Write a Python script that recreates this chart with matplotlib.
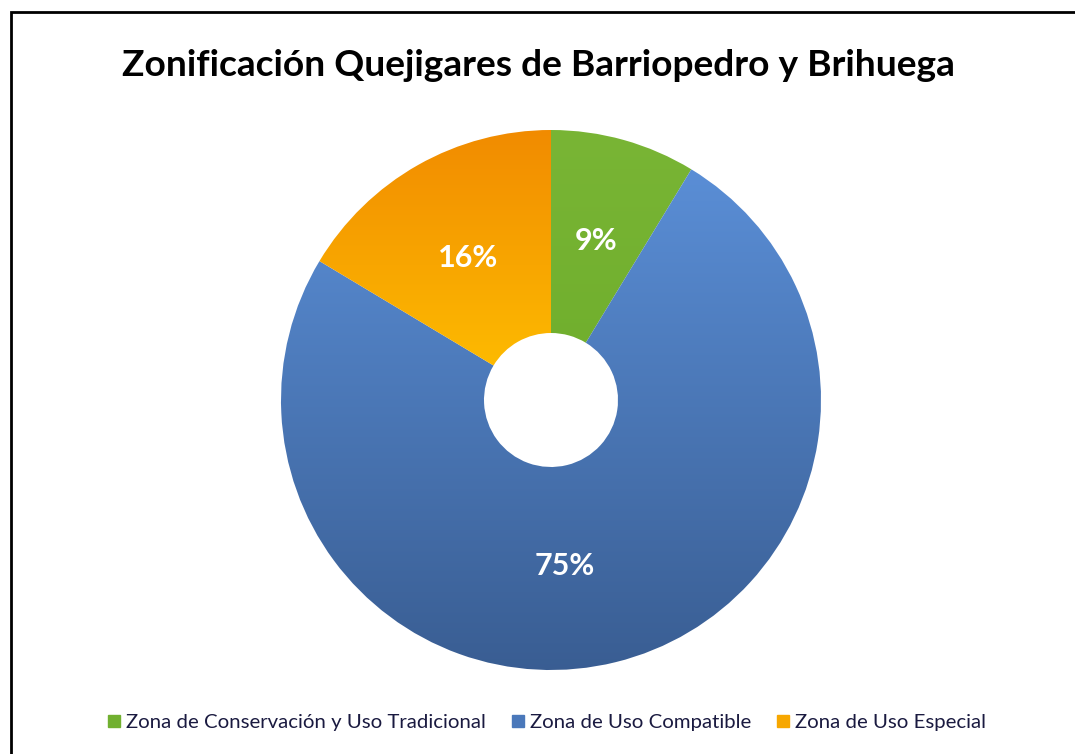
import numpy as np
import matplotlib
matplotlib.use("Agg")
import matplotlib.pyplot as plt
from matplotlib.colors import LinearSegmentedColormap
from matplotlib.lines import Line2D
from matplotlib.patches import Rectangle

categories = ["Zona de Conservación y Uso Tradicional",
              "Zona de Uso Compatible",
              "Zona de Uso Especial"]
values = [8.7, 74.9, 16.4]
labels = ["9%", "75%", "16%"]
title = "Zonificación Quejigares de Barriopedro y Brihuega"

grad_top = ["#79B535", "#5A8ED6", "#F18B00"]
grad_bot = ["#6FAE2C", "#395D92", "#FFC100"]
legend_colors = ["#71B030", "#4A78BA", "#F7A700"]

# label nudges (pixels, screen coords: +dy = down)
label_dx = [0, -27, 0]
label_dy = [3, 2, 5]

W, H = 1075, 754
fig = plt.figure(figsize=(W / 100, H / 100), dpi=100)
ax = fig.add_axes([0, 0, 1, 1])

cx, cy, R, r_in = 551, H - 400, 270, 67
wedges, _ = ax.pie(values, startangle=90, counterclock=False, radius=R,
                   center=(cx, cy), wedgeprops=dict(width=R - r_in, linewidth=0),
                   colors=grad_top, frame=True)
ax.set_xlim(0, W)
ax.set_ylim(0, H)
ax.set_aspect("equal")
ax.axis("off")

# Gradient fill per wedge (vertical, top -> bottom)
for w, c0, c1 in zip(wedges, grad_top, grad_bot):
    verts = w.get_path().vertices
    x0, x1 = verts[:, 0].min(), verts[:, 0].max()
    y0, y1 = verts[:, 1].min(), verts[:, 1].max()
    cmap = LinearSegmentedColormap.from_list("g", [c0, c1])
    grad = np.linspace(0, 1, 256).reshape(-1, 1)
    im = ax.imshow(grad, cmap=cmap, extent=(x0, x1, y0, y1), origin="upper",
                   aspect="auto", interpolation="bilinear", zorder=2)
    im.set_clip_path(w)
    w.set_facecolor("none")

# Percentage labels at mid radius
theta = 90.0
total = sum(values)
rm = (R + r_in) / 2
for v, lab, dx, dy in zip(values, labels, label_dx, label_dy):
    ang = theta - v / total * 360 / 2
    theta -= v / total * 360
    x = cx + rm * np.cos(np.radians(ang)) + dx
    y = cy + rm * np.sin(np.radians(ang)) - dy
    ax.text(x, y, lab, color="white", fontsize=22, fontweight="bold",
            family="Lato", ha="center", va="center", zorder=5)

ax.text(538, H - 65, title, fontsize=26.7, fontweight="bold", family="Lato",
        ha="center", va="center", color="black")

# Figure border (top & left visible)
ax.add_patch(Rectangle((11, -10), W, H - 12 + 10, fill=False, edgecolor="black",
                       linewidth=2, zorder=6))

handles = [Line2D([], [], marker="s", linestyle="none", markersize=9,
                  markerfacecolor=c, markeredgecolor=c) for c in legend_colors]
leg = fig.legend(handles, categories, loc="center", bbox_to_anchor=(545 / W, 1 - 722 / H),
                 ncol=3, frameon=False, prop=dict(family="Lato", size=14.7),
                 handletextpad=0.1, columnspacing=1.05, handlelength=1.0)
for t in leg.get_texts():
    t.set_color("#1a1a40")

fig.savefig("out.png", dpi=100)
